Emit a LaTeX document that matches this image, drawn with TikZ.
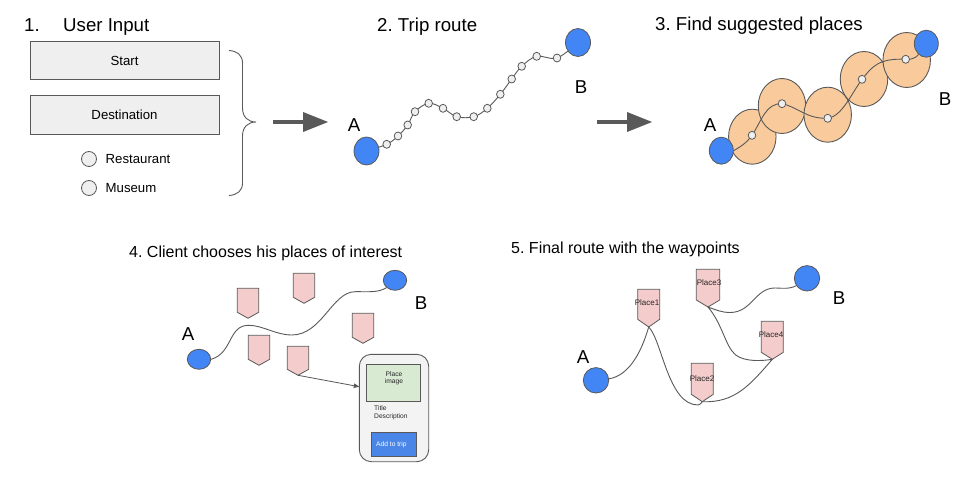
\documentclass[tikz,border=0pt]{standalone}
\usepackage{fontspec}
\setmainfont{Liberation Sans}
\frenchspacing
\definecolor{ln}{HTML}{595959}
\definecolor{bluef}{HTML}{4285F4}
\definecolor{orangef}{HTML}{F9CB9C}
\definecolor{pinkf}{HTML}{F4CCCC}
\definecolor{greenf}{HTML}{D9EAD3}
\definecolor{grayf}{HTML}{EFEFEF}
\definecolor{phonef}{HTML}{F3F3F3}
\definecolor{btnf}{HTML}{4A86E8}
\definecolor{arrowc}{HTML}{595959}
\newcommand{\fsz}[1]{\fontsize{#1}{#1}\selectfont}
\tikzset{
  big/.style={inner sep=0pt,anchor=base west,font=\fsz{18.67}},
  midf/.style={inner sep=0pt,anchor=base west,font=\fsz{16}},
  midg/.style={inner sep=0pt,anchor=base west,font=\fsz{16}},
  letter/.style={inner sep=0pt,anchor=center,font=\fsz{18.67}},
  lab/.style={inner sep=0pt,anchor=base west,font=\fsz{13.2}},
  tiny/.style={inner sep=0pt,anchor=base west,font=\fsz{6.67},text=black!85},
  placelab/.style={inner sep=0pt,anchor=center,font=\fsz{8},text=black!85},
  inputbox/.style={draw=ln,fill=grayf,line width=0.9pt,minimum width=189pt,inner sep=0pt,font=\fsz{13.2}},
  radio/.style={draw=ln,fill=grayf,line width=0.8pt,circle,minimum size=15pt,inner sep=0pt},
  wp/.style={ellipse,draw=ln,fill=grayf,line width=0.8pt,minimum width=7.6pt,minimum height=8pt,inner sep=0pt},
  endpt/.style={ellipse,draw=ln,fill=bluef,line width=0.8pt,inner sep=0pt},
  zone/.style={ellipse,draw=ln,fill=orangef,line width=0.9pt,minimum width=47.5pt,minimum height=55pt,inner sep=0pt},
  route/.style={draw=ln,line width=0.9pt},
  shieldst/.style={draw=ln,fill=pinkf,line width=0.8pt,line join=miter},
  bigarrow/.style={draw=none,fill=arrowc},
}
\usetikzlibrary{shapes.geometric,arrows.meta}
% name, left, top, width, body height, tip depth
\newcommand{\shield}[6]{%
  \draw[shieldst] (#2,#3) -- (#2+#4,#3) -- (#2+#4,#3+#5) -- (#2+#4/2,#3+#5+#6) -- (#2,#3+#5) -- cycle;
  \coordinate (#1) at (#2+#4/2,#3+#5+#6);
}
\newcommand{\fatarrow}[2]{% start x, y
  \fill[bigarrow] (#1,#2-2) rectangle (#1+31,#2+2);
  \fill[bigarrow] (#1+30,#2-10) -- (#1+55,#2) -- (#1+30,#2+10) -- cycle;
}
\begin{document}
\begin{tikzpicture}[x=1pt,y=-1pt]
\useasboundingbox (0,0) rectangle (960,478);
\fill[white] (0,0) rectangle (960,478);

% ---- 1
\node[big] (t1a) at (24,32) {1.};
\node[big] (t1b) at (63,32) {User Input};
\node[inputbox,minimum height=38pt] (start) at (124.5,60.5) {Start};
\node[inputbox,minimum height=39pt] (dest) at (124.5,115) {Destination};
\node[radio] (r1) at (89,159) {};
\node[radio] (r2) at (89,188) {};
\node[lab] (rl1) at (105.5,163.5) {Restaurant};
\node[lab] (rl2) at (105.5,192.5) {Museum};
\draw[route] (229,50.5) .. controls (237,51) and (242.5,55) .. (242.5,63)
  -- (242.5,108) .. controls (242.5,117) and (248,122) .. (256,122)
  .. controls (248,122) and (242.5,127) .. (242.5,136)
  -- (242.5,183) .. controls (242.5,191) and (237,195) .. (229,195.5);
\fatarrow{273}{122}

% ---- 2
\node[big] (t2) at (377,32) {2. Trip route};
\foreach \n/\p in {1/{386.7,144.3},2/{398,136},3/{407.7,125},4/{415,111.7},5/{428.7,103.3},6/{443,108.3},7/{456.7,116.7},8/{473.7,116.7},9/{487.3,108.3},10/{500.3,94.3},11/{511.7,79},12/{521.7,66.3},13/{536.7,56.3},14/{557,58}}
  \coordinate (c\n) at (\p);
\coordinate (a2c) at (366.5,151);
\coordinate (b2c) at (578,42.5);
\draw[route] plot[smooth,tension=0.6] coordinates {(a2c) (c1) (c2) (c3) (c4) (c5) (c6) (c7) (c8) (c9) (c10) (c11) (c12) (c13) (c14) (b2c)};
\node[endpt,minimum width=25pt,minimum height=28pt] (a2) at (a2c) {};
\node[endpt,minimum width=25pt,minimum height=28pt] (b2) at (b2c) {};
\foreach \n in {1,...,14} \node[wp] (w\n) at (c\n) {};
\node[letter] (la2) at (354,125) {A};
\node[letter] (lb2) at (581,87) {B};
\fatarrow{597}{122}

% ---- 3
\node[big] (t3) at (655,31) {3. Find suggested places};
\node[zone] (z1) at (752.3,136.7) {};
\node[zone] (z2) at (782,106) {};
\node[zone] (z3) at (827.7,114.7) {};
\node[zone] (z4) at (864,79) {};
\node[zone] (z5) at (906.7,60) {};
\coordinate (d1) at (752,135.3);
\coordinate (d2) at (782,103.7);
\coordinate (d3) at (827.7,118.3);
\coordinate (d4) at (862,79.3);
\coordinate (d5) at (905.7,59.3);
\node[endpt,minimum width=24pt,minimum height=27pt] (a3) at (721.3,150.7) {};
\node[endpt,minimum width=24pt,minimum height=27pt] (b3) at (926.3,43.7) {};
\draw[route] (a3.east) .. controls (738,148) and (746,144) .. (d1)
  .. controls (762,120) and (766,103) .. (d2)
  .. controls (798,107) and (806,119) .. (d3)
  .. controls (842,116) and (850,96) .. (d4)
  .. controls (872,67) and (878,58) .. (d5)
  .. controls (915,60) and (918,55) .. (b3);
\node[wp] (wd1) at (d1) {};
\node[wp] (wd2) at (d2) {};
\node[wp] (wd3) at (d3) {};
\node[wp] (wd4) at (d4) {};
\node[wp] (wd5) at (d5) {};
\node[letter] (la3) at (710,125) {A};
\node[letter] (lb3) at (945,99) {B};

% ---- 4
\node[midf] (t4) at (129,257) {4. Client chooses his places of interest};
\shield{sa}{237.3}{288.3}{21.4}{24}{6}
\shield{sb}{293.3}{273.3}{21.4}{24}{6}
\shield{sc}{352.3}{313.3}{21.4}{24}{6}
\shield{sd}{248.3}{335.3}{21.4}{24}{6}
\shield{se}{287.3}{346.3}{21.4}{23}{6}
\node[endpt,minimum width=23.4pt,minimum height=20pt] (a4) at (199,359.3) {};
\node[endpt,minimum width=23.4pt,minimum height=20pt] (b4) at (395,280.3) {};
\draw[route] (a4.east) .. controls (233,353) and (228,325) .. (249,325.3)
  .. controls (263,325.5) and (276,335) .. (291.7,335)
  .. controls (322,335) and (332,292) .. (355,291.7)
  .. controls (368,291.5) and (378,293) .. (b4.south west);
\node[letter] (la4) at (188,334) {A};
\node[letter] (lb4) at (421,303) {B};
\node[draw=ln,fill=phonef,line width=0.9pt,rounded corners=12pt,minimum width=69.4pt,minimum height=107.4pt,inner sep=0pt] (phone) at (394,408) {};
\node[draw=ln,fill=greenf,line width=0.8pt,minimum width=54pt,minimum height=37pt,inner sep=0pt] (img) at (393.3,382.8) {};
\node[inner sep=0pt,font=\fsz{6.67},text=black!85] (imt1) at (394,374) {Place};
\node[inner sep=0pt,font=\fsz{6.67},text=black!85] (imt2) at (394,382) {image};
\node[tiny] (tt) at (374,410.5) {Title};
\node[tiny] (td) at (374,418.5) {Description};
\node[draw=ln,fill=btnf,line width=0.8pt,minimum width=45.4pt,minimum height=24pt,inner sep=0pt] (btn) at (394,444.3) {};
\node[tiny,text=white] (btnt) at (376,446) {Add to trip};
\coordinate (phonein) at (359.3,386.7);
\draw[draw=ln,line width=0.8pt,-{Triangle[length=5.5pt,width=4.5pt]}] (se) -- (phonein);

% ---- 5
\node[midg] (t5) at (511,254) {5. Final route with the waypoints};
\shield{p1}{637.7}{289.3}{22}{30}{7.7}
\shield{p3}{696.3}{269.3}{23.4}{30.7}{7}
\shield{p4}{761.3}{321.3}{22}{31}{7}
\shield{p2}{691.3}{363.3}{22}{31}{7.4}
\coordinate (a5c) at (596,380.3);
\coordinate (b5c) at (807,278.3);
\draw[route] (a5c) -- (608,379) .. controls (630,376) and (642,350) .. (p1)
  .. controls (662,340) and (668,405) .. (698,405)
  .. controls (700,405) and (701,403) .. (p2)
  .. controls (735,403) and (750,385) .. (p4)
  .. controls (762,361) and (745,362) .. (735.7,355)
  .. controls (725,346) and (723,325) .. (p3)
  .. controls (716,310) and (722,312.5) .. (730,312.5)
  .. controls (752,312.5) and (755,288) .. (775,288)
  .. controls (785,288) and (793,291) .. (b5c);
\node[endpt,minimum width=25.4pt,minimum height=25.4pt] (a5) at (a5c) {};
\node[endpt,minimum width=25.4pt,minimum height=25.4pt] (b5) at (b5c) {};
\node[placelab] (pl1) at (647,302.5) {Place1};
\node[placelab] (pl3) at (709,282.5) {Place3};
\node[placelab] (pl4) at (771,334.5) {Place4};
\node[placelab] (pl2) at (702,379) {Place2};
\node[letter] (la5) at (583,357) {A};
\node[letter] (lb5) at (839,298) {B};
\end{tikzpicture}
\end{document}
